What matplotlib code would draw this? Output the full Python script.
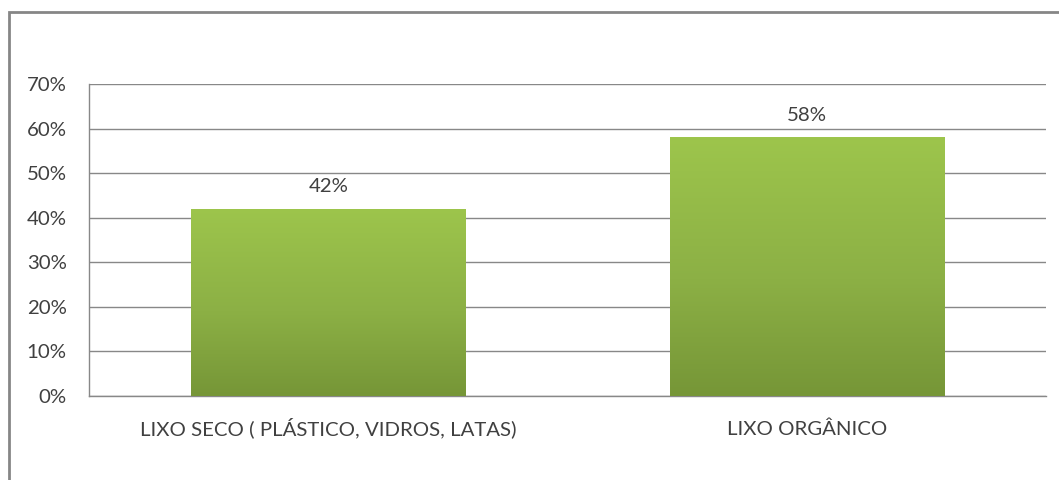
import matplotlib
matplotlib.use('Agg')
from matplotlib import pyplot as plt
from matplotlib.patches import Rectangle
from matplotlib.colors import LinearSegmentedColormap
import numpy as np

categories = ['LIXO SECO ( PLÁSTICO, VIDROS, LATAS)', 'LIXO ORGÂNICO']
values = [0.42, 0.58]
yticks = [0, 0.1, 0.2, 0.3, 0.4, 0.5, 0.6, 0.7]
ytick_labels = ['0%', '10%', '20%', '30%', '40%', '50%', '60%', '70%']

plt.rcParams['font.family'] = ['Lato', 'DejaVu Sans']
text_color = '#404040'
grid_color = '#888888'

fig = plt.figure(figsize=(10.59, 4.8), dpi=100)
ax = fig.add_axes([89 / 1059, 84 / 480, (1046 - 89) / 1059, 312 / 480])

x = np.arange(len(categories))
bars = ax.bar(x, values, width=0.573, color='none', edgecolor='none', zorder=3)

# vertical gradient inside each bar, light on top
cmap = LinearSegmentedColormap.from_list('grn', [(0.0, '#769637'), (0.45, '#8cb045'), (1.0, '#9dc54c')])
grad = np.linspace(0, 1, 256).reshape(-1, 1)
for b in bars:
    im = ax.imshow(grad, cmap=cmap, origin='lower', aspect='auto', zorder=3,
                   extent=[b.get_x(), b.get_x() + b.get_width(), 0, b.get_height()])
    im.set_clip_path(b)

ax.set_xlim(-0.5, len(categories) - 0.5)
ax.set_ylim(0, 0.7)
ax.set_yticks(yticks)
ax.set_yticklabels(ytick_labels)
ax.set_xticks(x)
ax.set_xticklabels(categories)
ax.tick_params(axis='y', length=0, pad=16, labelsize=14.7, labelcolor=text_color)
ax.tick_params(axis='x', length=0, pad=28, labelsize=14.7, labelcolor=text_color)
for lbl in ax.get_xticklabels():
    lbl.set_va('baseline')
ax.yaxis.grid(True, color=grid_color, linewidth=1)
ax.set_axisbelow(True)
for s in ['top', 'right']:
    ax.spines[s].set_visible(False)
for s in ['left', 'bottom']:
    ax.spines[s].set_color(grid_color)
    ax.spines[s].set_linewidth(1)

for xi, v in zip(x, values):
    ax.annotate('%d%%' % round(v * 100), (xi, v), xytext=(0, 16), textcoords='offset points',
                ha='center', va='center', fontsize=14.7, color=text_color)

# outer chart border (only top and left are in frame)
fig.patches.append(Rectangle((9 / 1059, -0.1), 1.2, (480 - 12) / 480 + 0.1,
                             transform=fig.transFigure, fill=False,
                             edgecolor='#868686', linewidth=2))

fig.savefig('out.png', dpi=100)
